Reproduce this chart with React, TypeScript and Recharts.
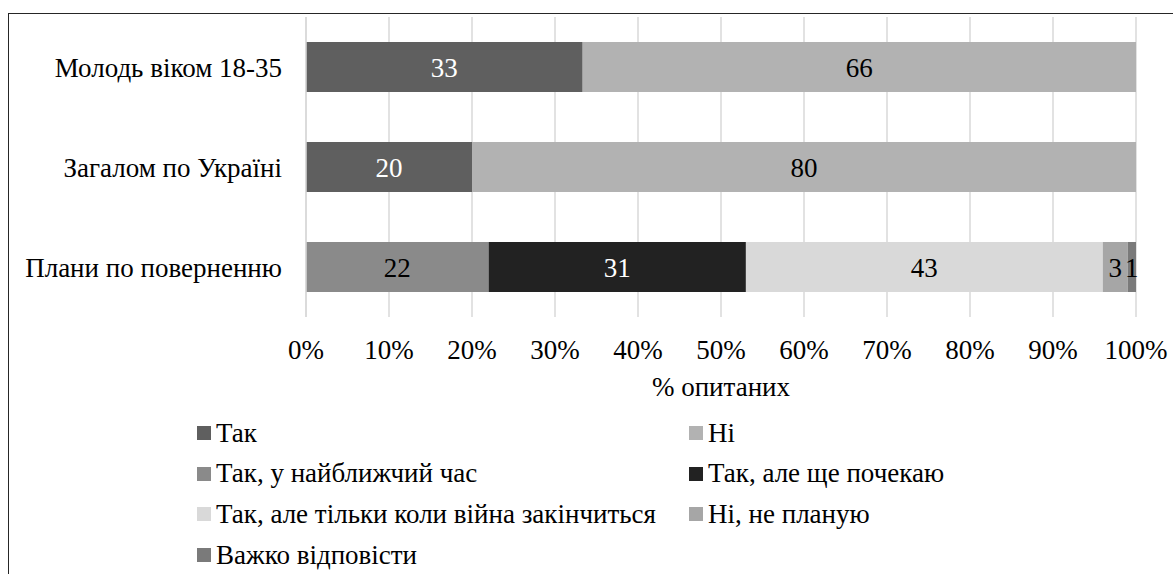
import React from 'react';
import { BarChart, Bar, XAxis, YAxis, CartesianGrid, LabelList, Legend } from 'recharts';

const categories = ['Молодь віком 18-35', 'Загалом по Україні', 'Плани по поверненню'];
const seriesNames = [
  'Так',
  'Ні',
  'Так, у найближчий час',
  'Так, але ще почекаю',
  'Так, але тільки коли війна закінчиться',
  'Ні, не планую',
  'Важко відповісти',
];
const tak = [33, 20, undefined];
const ni = [66, 80, undefined];
const soon = [undefined, undefined, 22];
const wait = [undefined, undefined, 31];
const warEnd = [undefined, undefined, 43];
const noPlan = [undefined, undefined, 3];
const hard = [undefined, undefined, 1];
const xTicks = [0, 0.1, 0.2, 0.3, 0.4, 0.5, 0.6, 0.7, 0.8, 0.9, 1];
const xAxisTitle = '% опитаних';

const seriesValues = [tak, ni, soon, wait, warEnd, noPlan, hard];
const colors = ['#5f5f5f', '#b2b2b2', '#8a8a8a', '#222222', '#d9d9d9', '#a6a6a6', '#7a7a7a'];
const labelColors = ['#ffffff', '#000000', '#000000', '#ffffff', '#000000', '#000000', '#000000'];

const data = categories.map((c, i) => {
  const row: any = { name: c };
  seriesValues.forEach((arr, k) => {
    row['s' + k] = arr[i];
  });
  return row;
});

const FONT = 'Liberation Serif, Tinos, Noto Serif, DejaVu Serif, serif';
const FS = 27;

const LegendContent = (props: any) => {
  const payload = [...(props.payload || [])].sort(
    (a: any, b: any) => seriesNames.indexOf(a.value) - seriesNames.indexOf(b.value)
  );
  return (
    <div style={{ position: 'relative', width: 1173, height: 160 }}>
      {payload.map((p: any, i: number) => {
        const col = i % 2;
        const row = Math.floor(i / 2);
        return (
          <div
            key={i}
            style={{
              position: 'absolute',
              left: col ? 689 : 197,
              top: row * 40.7,
              height: 32,
              display: 'flex',
              alignItems: 'center',
              fontFamily: FONT,
              fontSize: FS,
              color: '#000',
              whiteSpace: 'nowrap',
            }}
          >
            <span style={{ display: 'inline-block', width: 14, height: 14, background: p.color, marginRight: 5 }} />
            <span>{p.value}</span>
          </div>
        );
      })}
    </div>
  );
};

export default function App() {
  return (
    <div style={{ position: 'fixed', left: 0, top: 0, width: 1173, height: 574, overflow: 'hidden', background: '#fff' }}>
      <div
        style={{
          position: 'absolute',
          left: 8,
          top: 13,
          width: 1400,
          height: 800,
          borderTop: '1.5px solid #262626',
          borderLeft: '1.5px solid #262626',
        }}
      />
      <div style={{ position: 'absolute', left: 0, top: 0 }}>
        <BarChart
          width={1173}
          height={574}
          data={data}
          layout="vertical"
          stackOffset="expand"
          margin={{ top: 17, right: 37, bottom: 172, left: 0 }}
        >
          <CartesianGrid horizontal={false} stroke="#d9d9d9" strokeWidth={1.5} />
          <XAxis
            type="number"
            domain={[0, 1]}
            ticks={xTicks}
            tickFormatter={(v: number) => Math.round(v * 100) + '%'}
            axisLine={false}
            tickLine={false}
            tickMargin={17}
            height={85}
            tick={{ fontFamily: FONT, fontSize: FS, fill: '#000' }}
            label={{ value: xAxisTitle, position: 'insideBottom', offset: 6, fontFamily: FONT, fontSize: FS, fill: '#000' }}
          />
          <YAxis
            type="category"
            dataKey="name"
            width={306}
            axisLine={{ stroke: '#d9d9d9', strokeWidth: 1.5 }}
            tickLine={false}
            tickMargin={18}
            tick={{ fontFamily: FONT, fontSize: FS, fill: '#000' }}
          />
          <Legend
            layout="horizontal"
            verticalAlign="middle"
            align="center"
            wrapperStyle={{ top: 417, left: 0, width: 1173 }}
            content={<LegendContent />}
          />
          {seriesNames.map((n, k) => (
            <Bar
              key={k}
              dataKey={'s' + k}
              name={n}
              stackId="a"
              fill={colors[k]}
              barSize={50}
              isAnimationActive={false}
            >
              <LabelList
                dataKey={'s' + k}
                position="center"
                formatter={(v: any) => (v === undefined || v === null ? '' : v)}
                style={{ fontFamily: FONT, fontSize: FS, fill: labelColors[k] }}
              />
            </Bar>
          ))}
        </BarChart>
      </div>
    </div>
  );
}
